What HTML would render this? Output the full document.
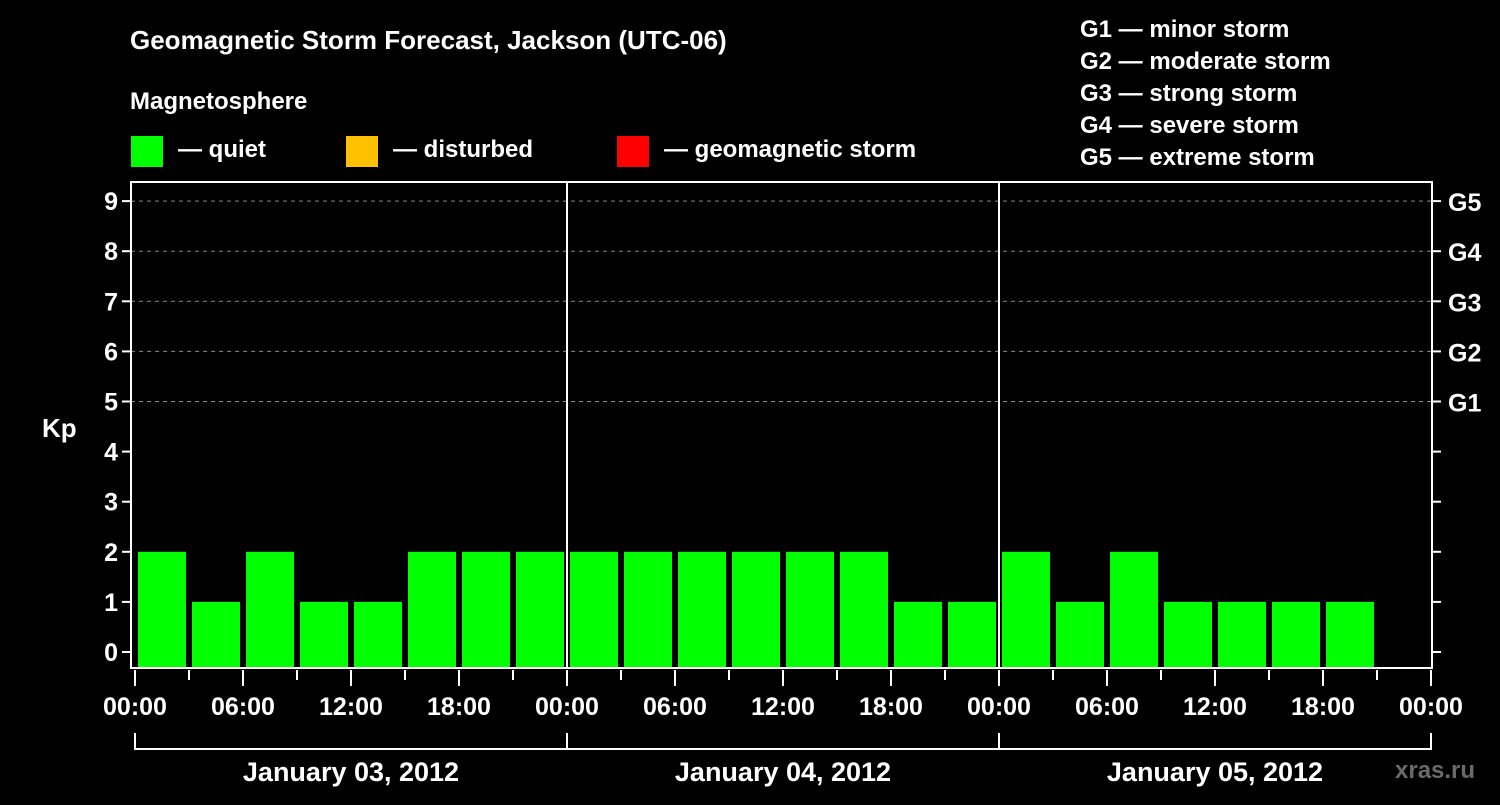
<!DOCTYPE html>
<html><head><meta charset="utf-8"><style>
body{margin:0;background:#000;width:1500px;height:800px;overflow:hidden}
svg text{font-family:"Liberation Sans",sans-serif;font-weight:bold;fill:#fff}
</style></head><body>
<svg id="c" width="1500" height="800">
<rect width="1500" height="800" fill="#000"/>
<text x="130" y="49" font-size="26">Geomagnetic Storm Forecast, Jackson (UTC-06)</text>
<text x="130" y="109" font-size="24">Magnetosphere</text>
<g><rect x="131" y="136" width="32" height="31" fill="#00ff00"/><text x="178" y="157" font-size="24">— quiet</text></g>
<g><rect x="346" y="136" width="32" height="31" fill="#ffc000"/><text x="393" y="157" font-size="24">— disturbed</text></g>
<g><rect x="617" y="136" width="32" height="31" fill="#ff0000"/><text x="664" y="157" font-size="24">— geomagnetic storm</text></g>
<g font-size="24">
<text x="1080" y="37">G1 — minor storm</text>
<text x="1080" y="69">G2 — moderate storm</text>
<text x="1080" y="101">G3 — strong storm</text>
<text x="1080" y="133">G4 — severe storm</text>
<text x="1080" y="165">G5 — extreme storm</text>
</g>
<text x="42" y="437" font-size="26">Kp</text>
<text x="1395" y="778" font-size="24" fill="#666" style="fill:#6a6a6a">xras.ru</text>
<g id="plot"></g>
</svg>
<script>
const kpValues=[2,1,2,1,1,2,2,2, 2,2,2,2,2,2,1,1, 2,1,2,1,1,1,1];
const dayLabels=["January 03, 2012","January 04, 2012","January 05, 2012"];
const yTicks=[0,1,2,3,4,5,6,7,8,9];
const gLabels=["G1","G2","G3","G4","G5"];
const xTickLabels=["00:00","06:00","12:00","18:00"];

const NS="http://www.w3.org/2000/svg";
const g=document.getElementById('plot');
const X0=135,HPX=18,Y0=652,KPX=50.1;
const L=131,R=1432,T=182,B=668;
const xs=h=>X0+h*HPX, ys=k=>Y0-k*KPX;
function mk(tag,a,parent){const e=document.createElementNS(NS,tag);for(const k in a)e.setAttribute(k,a[k]);(parent||g).appendChild(e);return e;}
function col(v){return v>=5?'#ff0000':v>=4?'#ffc000':'#00ff00';}
// grid
yTicks.forEach(k=>{
  if(k>=5){const l=mk('line',{x1:L,x2:R,y1:ys(k),y2:ys(k),stroke:'#888','stroke-dasharray':'4 4','stroke-width':1});
  
  }
  const t=mk('line',{x1:L-9,x2:L,y1:ys(k),y2:ys(k),stroke:'#fff','stroke-width':2});
  
  
  const t2=mk('line',{x1:R,x2:R+9,y1:ys(k),y2:ys(k),stroke:'#fff','stroke-width':2});
  
  
  const tx=mk('text',{x:L-13,y:ys(k)+9,'font-size':25,'text-anchor':'end'});tx.textContent=k;
  
  
});
gLabels.forEach((s,i)=>{const tx=mk('text',{x:R+16,y:ys(5+i)+10,'font-size':25});tx.textContent=s;
  
  });
// bars
kpValues.forEach((v,i)=>{const x=xs(i*3)+3;const b=mk('rect',{x:x,y:ys(v),width:48,height:B-ys(v),fill:col(v)});
  
  });
// frame
const f=mk('rect',{x:L,y:T,width:R-L,height:B-T,fill:'none',stroke:'#fff','stroke-width':2});


for(let d=1;d<dayLabels.length;d++){const l=mk('line',{x1:xs(24*d),x2:xs(24*d),y1:T,y2:B,stroke:'#fff','stroke-width':2});
  
  }
// x ticks
for(let h=0;h<=72;h+=3){const long=h%6==0;const l=mk('line',{x1:xs(h),x2:xs(h),y1:B+2,y2:B+(long?18:12),stroke:'#fff','stroke-width':2});
  
  
  if(long){const tx=mk('text',{x:xs(h),y:715,'font-size':25,'text-anchor':'middle'});tx.textContent=h==72?xTickLabels[0]:xTickLabels[(h%24)/6];
  
  }}
// day bracket
const br=mk('line',{x1:xs(0),x2:xs(72),y1:749,y2:749,stroke:'#fff','stroke-width':2});


for(let d=0;d<=dayLabels.length;d++){const l=mk('line',{x1:xs(24*d),x2:xs(24*d),y1:733,y2:750,stroke:'#fff','stroke-width':2});
  
  }
dayLabels.forEach((s,d)=>{const tx=mk('text',{x:xs(24*d+12),y:781,'font-size':27,'text-anchor':'middle'});tx.textContent=s;
  
  });
</script>
</body></html>
